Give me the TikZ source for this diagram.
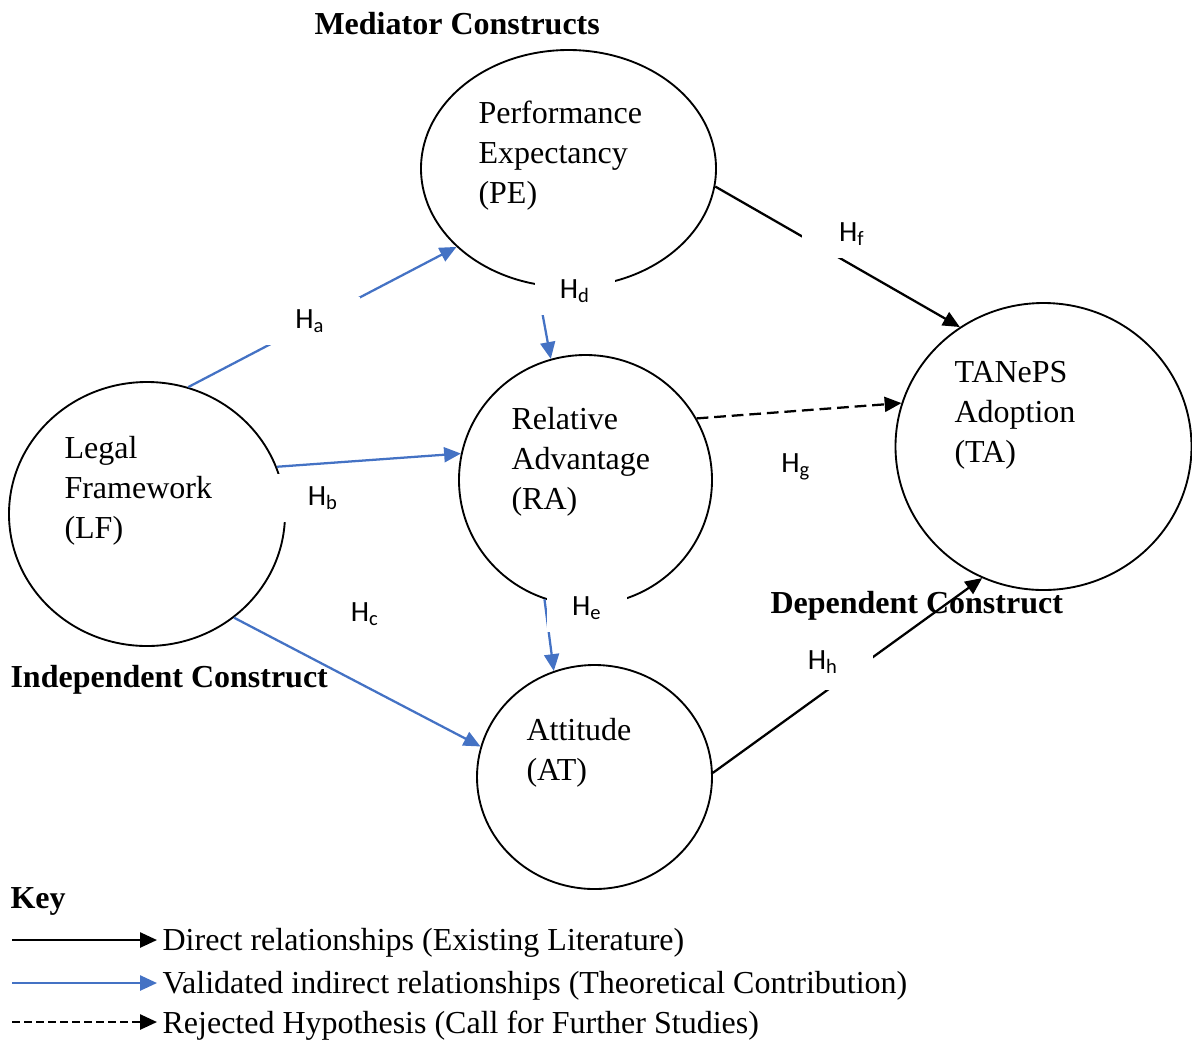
\documentclass[tikz,border=0pt]{standalone}
\usepackage{fontspec}
\setmainfont{Liberation Serif}
\newfontfamily\hfont{Carlito}
\usetikzlibrary{arrows.meta, shapes.geometric}
\definecolor{accblue}{HTML}{4472C4}

\begin{document}
\begin{tikzpicture}[
  x=0.375pt, y=-0.375pt,
  construct/.style 2 args={ellipse, draw, line width=0.7pt, inner sep=0pt,
    minimum width=#1*0.375pt, minimum height=#2*0.375pt},
  ctext/.style={anchor=north west, align=left, inner sep=0pt,
    font=\fontsize{12pt}{15pt}\selectfont},
  title/.style={anchor=base west, inner sep=0pt,
    font=\fontsize{12pt}{15pt}\selectfont\bfseries},
  hyp/.style={fill=white, inner sep=0pt, minimum width=100*0.375pt,
    minimum height=48*0.375pt, font=\hfont\fontsize{11pt}{13pt}\selectfont},
  direct/.style={-{Triangle[length=6.3pt,width=5.6pt]}, line width=0.85pt},
  valid/.style={direct, accblue},
  rejected/.style={direct, dash pattern=on 4.4pt off 2.2pt},
  keytext/.style={anchor=base west, inner xsep=1.9pt, inner ysep=0pt,
    font=\fontsize{12pt}{15pt}\selectfont}
]
\useasboundingbox (0,0) rectangle (1192,1041);

% constructs
\node[construct={295}{237}] (PE) at (568.5,168.5) {};
\node[construct={253}{250}] (RA) at (585.5,480) {};
\node[construct={276}{264}] (LF) at (147,514) {};
\node[construct={235}{224}] (AT) at (594.5,777) {};
\node[construct={296}{287}] (TA) at (1043.5,446.5) {};

\node[ctext] (PEtext) at (478,100) {Performance\\Expectancy\\(PE)};
\node[ctext] (RAtext) at (511,407) {Relative\\Advantage\\(RA)};
\node[ctext] (LFtext) at (64,436) {Legal\\Framework\\(LF)};
\node[ctext] (ATtext) at (526,718) {Attitude\\(AT)};
\node[ctext] (TAtext) at (954,361) {TANePS\\Adoption\\(TA)};

% hypotheses
\draw[valid] (LF.72.5) -- (PE.215);
\draw[valid] (LF.20.1) -- (RA.168.6);
\draw[valid] (LF.310.7) -- (AT.165.4);
\draw[valid] (PE.255.4) -- (RA.106.8);
\draw[valid] (RA.251.2) -- (AT.111.8);
\draw[direct] (PE.353.2) -- (TA.125.3);
\draw[rejected] (RA.29.1) -- (TA.163.1);
\draw[direct] (AT.2.4) -- (TA.245.7);

\node[hyp] (Ha) at (310,321) {H\textsubscript{a}};
\node[hyp] (Hb) at (323,498) {H\textsubscript{b}};
\node[hyp] (Hc) at (365,614) {H\textsubscript{c}};
\node[hyp, minimum width=80*0.375pt] (Hd) at (575,291) {H\textsubscript{d}};
\node[hyp, minimum width=80*0.375pt] (He) at (587,608) {H\textsubscript{e}};
\node[hyp] (Hf) at (852,234) {H\textsubscript{f}};
\node[hyp] (Hg) at (796,467) {H\textsubscript{g}};
\node[hyp, minimum height=56*0.375pt] (Hh) at (823,662) {H\textsubscript{h}};

% headings
\node[title] (med) at (314,34) {Mediator Constructs};
\node[title] (ind) at (10,687) {Independent Construct};
\node[title] (dep) at (770,613) {Dependent Construct};
\node[title] (key) at (10,908) {Key};

% key
\coordinate (k1) at (12,940);
\coordinate (k2) at (12,983);
\coordinate (k3) at (12,1022);
\node[keytext] (t1) at (157,950) {Direct relationships (Existing Literature)};
\node[keytext] (t2) at (157,993) {Validated indirect relationships (Theoretical Contribution)};
\node[keytext] (t3) at (157,1033) {Rejected Hypothesis (Call for Further Studies)};
\draw[direct] (k1) -- (k1 -| t1.west);
\draw[valid] (k2) -- (k2 -| t2.west);
\draw[direct, dash pattern=on 3pt off 1.5pt] (k3) -- (k3 -| t3.west);
\end{tikzpicture}
\end{document}
